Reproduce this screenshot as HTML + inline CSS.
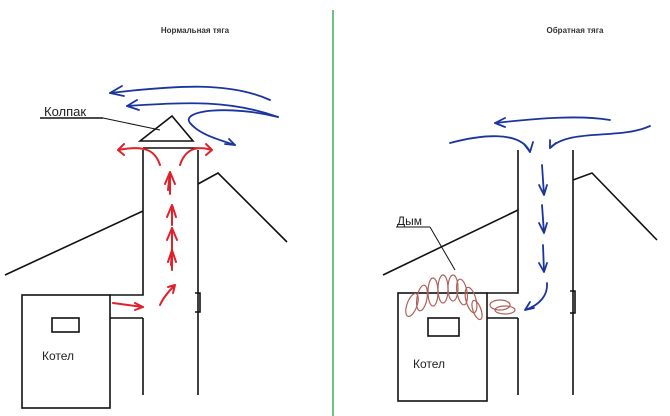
<!DOCTYPE html>
<html><head><meta charset="utf-8"><style>
html,body{margin:0;padding:0;background:#fff}
svg{display:block}
text{font-family:"Liberation Sans","DejaVu Sans",sans-serif}
</style></head><body>
<svg width="670" height="416" viewBox="0 0 670 416" xmlns="http://www.w3.org/2000/svg">
<rect width="670" height="416" fill="#fff"/>
<line x1="333" y1="10" x2="333" y2="416" stroke="#3fae5a" stroke-width="1.5"/>
<text x="195" y="33" font-family="Liberation Serif,serif" font-size="8" font-weight="bold" text-anchor="middle" fill="#333">Нормальная тяга</text>
<text x="575" y="33" font-family="Liberation Serif,serif" font-size="8" font-weight="bold" text-anchor="middle" fill="#333">Обратная тяга</text>

<g stroke="#111" stroke-width="1.6" fill="none">
<!-- left -->
<polyline points="143,150 143,295 110,295"/>
<polyline points="143,318 143,395"/>
<line x1="110" y1="318" x2="143" y2="318"/>
<line x1="198" y1="150" x2="198" y2="395"/>
<line x1="143" y1="148" x2="198" y2="148"/>
<polygon points="140,141 172,116 193,141"/>
<line x1="5" y1="275" x2="143" y2="211"/>
<polyline points="198,184 218,173 287,242"/>
<rect x="22" y="295" width="88" height="113"/>
<rect x="52" y="318" width="27" height="14"/>
<polyline points="195,293 200,293 200,312 195,312"/>
<line x1="40" y1="118" x2="103" y2="118"/>
<line x1="103" y1="118" x2="160" y2="130" stroke-width="1"/>
<!-- right -->
<polyline points="518,150 518,293 487,293"/>
<polyline points="518,318 518,395"/>
<line x1="487" y1="318" x2="518" y2="318"/>
<line x1="573" y1="150" x2="573" y2="395"/>
<line x1="383" y1="275" x2="518" y2="210"/>
<polyline points="573,180 592,173 657,240"/>
<rect x="398" y="293" width="89" height="108"/>
<rect x="428" y="318" width="31" height="18"/>
<polyline points="570,291 575,291 575,313 570,313"/>
<line x1="396" y1="227" x2="430" y2="227" stroke-width="1"/>
<line x1="430" y1="227" x2="455" y2="270" stroke-width="1"/>
</g>
<text x="44" y="116" font-size="13" fill="#222">Колпак</text>
<text x="42" y="360" font-size="12" fill="#222">Котел</text>
<text x="413" y="368" font-size="12" fill="#222">Котел</text>
<text x="397" y="225" font-size="12" fill="#222">Дым</text>

<g stroke="#1a35a0" stroke-width="1.8" fill="none" stroke-linecap="round">
<path d="M270,100 C230,82 180,85 110,93"/>
<path d="M110,93 l12,-7 M110,93 l14,3"/>
<path d="M278,117 C230,100 190,102 127,106"/>
<path d="M127,106 l10,-6 M127,106 l12,4"/>
<path d="M278,117 C230,105 180,110 190,123 C200,135 220,140 235,145"/>
<path d="M235,145 l-10,-1 M235,145 l-6,-6"/>
<path d="M610,120 C580,115 540,118 495,123"/>
<path d="M495,123 l10,-5 M495,123 l10,4"/>
<path d="M450,143 C480,135 520,130 530,152"/>
<path d="M530,152 l-6,-8 M530,152 l3,-10"/>
<path d="M650,126 C620,140 570,128 550,148"/>
<path d="M550,148 l0,-8 M550,148 l6,-5"/>
<path d="M542,165 l2,30 M544,195 l-5,-10 M544,195 l3,-10"/>
<path d="M542,205 l2,28 M544,233 l-5,-10 M544,233 l3,-10"/>
<path d="M543,245 l1,27 M544,272 l-5,-9 M544,272 l3,-9"/>
<path d="M547,283 C548,295 540,305 525,310 M525,310 l5,-8 M525,310 l9,-2"/>
</g>

<g stroke="#e0202a" stroke-width="2" fill="none" stroke-linecap="round">
<path d="M113,303 l30,4 M143,307 l-8,-4 M143,307 l-8,3"/>
<path d="M160,305 C163,298 170,290 175,285 M175,285 l-2,8 M175,285 l-7,2"/>
<path d="M172,250 l0,20 M172,250 l-4,12 M172,250 l4,12 M172,250 l-1,15"/>
<path d="M172,228 l0,22 M172,228 l-5,12 M172,228 l5,12"/>
<path d="M172,205 l0,20 M172,205 l-5,12 M172,205 l4,12"/>
<path d="M170,172 l0,22 M170,172 l-5,12 M170,172 l5,12 M170,172 l-2,18"/>
<path d="M160,165 C155,150 145,145 118,150 M118,150 l6,-6 M118,150 l6,5"/>
<path d="M180,165 C185,150 195,145 212,150 M212,150 l-6,-6 M212,150 l-6,5"/>
</g>

<g stroke="#b0605a" stroke-width="1.2" fill="none">
<ellipse cx="412" cy="305" rx="5" ry="12" transform="rotate(20 412 305)"/>
<ellipse cx="422" cy="298" rx="5" ry="13" transform="rotate(10 422 298)"/>
<ellipse cx="433" cy="292" rx="5" ry="14"/>
<ellipse cx="443" cy="289" rx="5" ry="14"/>
<ellipse cx="453" cy="288" rx="5" ry="13"/>
<ellipse cx="462" cy="292" rx="5" ry="13" transform="rotate(-10 462 292)"/>
<ellipse cx="471" cy="300" rx="5" ry="13" transform="rotate(-15 471 300)"/>
<ellipse cx="477" cy="310" rx="4" ry="10" transform="rotate(-20 477 310)"/>
<ellipse cx="500" cy="305" rx="10" ry="5"/>
<ellipse cx="505" cy="310" rx="10" ry="4"/>
</g>
</svg>
</body></html>
